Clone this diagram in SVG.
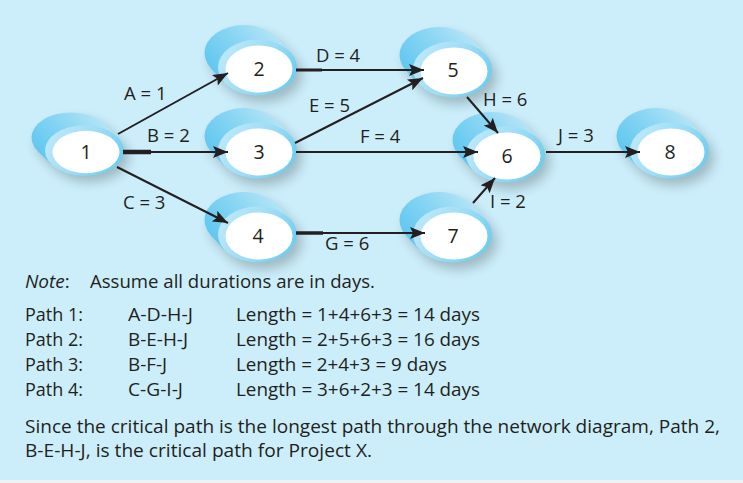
<svg xmlns="http://www.w3.org/2000/svg" xmlns:xlink="http://www.w3.org/1999/xlink" width="743" height="483" viewBox="0 0 743 483">
  <style>
    .lbl { font-family: "Open Sans", "Noto Sans", "Liberation Sans", sans-serif; font-size: 18.5px; fill: #231f20; }
    .num { font-family: "Open Sans", "Noto Sans", "Liberation Sans", sans-serif; font-size: 19.5px; fill: #231f20; text-anchor: middle; }
    .txt { font-family: "Open Sans", "Noto Sans", "Liberation Sans", sans-serif; font-size: 19px; fill: #231f20; }
    .edge { stroke: #231f20; stroke-width: 2; fill: none; }
    .edge-arrow { marker-end: url(#arrow); }
    .stub { stroke: #231f20; fill: none; }
  </style>
  <defs>
    <marker id="arrow" markerUnits="userSpaceOnUse" markerWidth="16" markerHeight="14" refX="15" refY="6" orient="auto">
      <path d="M0,0 L15,6 L0,12 L3,6 z" fill="#231f20"/>
    </marker>
    <linearGradient id="hullGrad" gradientUnits="userSpaceOnUse" x1="-50" y1="20" x2="25" y2="-45">
      <stop offset="0" stop-color="#52c2ee"/>
      <stop offset="0.55" stop-color="#8ad6f4"/>
      <stop offset="1" stop-color="#c4eaf8"/>
    </linearGradient>
    <linearGradient id="ringGrad" gradientUnits="userSpaceOnUse" x1="-40" y1="-25" x2="40" y2="25">
      <stop offset="0" stop-color="#c2eaf9"/>
      <stop offset="0.5" stop-color="#9adcf5"/>
      <stop offset="1" stop-color="#5ec8f0"/>
    </linearGradient>
    <filter id="soft" x="-50%" y="-50%" width="200%" height="200%">
      <feGaussianBlur stdDeviation="6"/>
    </filter>
    <!-- extruded oval node, drawn about the centre of its white face -->
    <g id="cyl">
      <g filter="url(#soft)" fill="#000" opacity="0.22" transform="translate(5,7)">
        <ellipse cx="-15" cy="-16" rx="39.5" ry="28"/>
        <polygon points="31.5,-16.9 18,-31.4 -48,-0.6 -34.5,13.9"/>
        <ellipse cx="-1.5" cy="-1.5" rx="39.5" ry="28"/>
      </g>
      <g fill="url(#hullGrad)">
        <ellipse cx="-15" cy="-16" rx="39.5" ry="28"/>
        <polygon points="31.5,-16.9 18,-31.4 -48,-0.6 -34.5,13.9"/>
      </g>
      <ellipse cx="-1.5" cy="-1.5" rx="39.5" ry="28" fill="url(#ringGrad)"/>
      <ellipse cx="0" cy="0" rx="33.5" ry="23.5" fill="#ffffff"/>
    </g>
  </defs>

  <rect x="0" y="0" width="743" height="483" fill="#eef2f3"/>
  <rect x="0" y="0" width="743" height="480" fill="#cbeefa"/>

  <g id="nodes">
    <g id="node-1"><use xlink:href="#cyl" transform="translate(86,152) scale(1,0.9)"/><text class="num" x="86" y="159">1</text></g>
    <g id="node-2"><use xlink:href="#cyl" transform="translate(259,69)"/><text class="num" x="259" y="76">2</text></g>
    <g id="node-3"><use xlink:href="#cyl" transform="translate(259,152)"/><text class="num" x="259" y="159">3</text></g>
    <g id="node-4"><use xlink:href="#cyl" transform="translate(259,236)"/><text class="num" x="258" y="243">4</text></g>
    <g id="node-5"><use xlink:href="#cyl" transform="translate(454,71)"/><text class="num" x="453" y="77">5</text></g>
    <g id="node-6"><use xlink:href="#cyl" transform="translate(507,156)"/><text class="num" x="507" y="163">6</text></g>
    <g id="node-7"><use xlink:href="#cyl" transform="translate(454,236)"/><text class="num" x="453" y="243">7</text></g>
    <g id="node-8"><use xlink:href="#cyl" transform="translate(671,152)"/><text class="num" x="670" y="159">8</text></g>
  </g>

  <g id="connectors">
    <line class="edge edge-arrow" x1="118" y1="134" x2="228" y2="73"/>
    <line class="stub" x1="123" y1="152" x2="151" y2="152" stroke-width="4.5"/>
    <line class="edge edge-arrow" x1="123" y1="152" x2="228" y2="152"/>
    <line class="edge edge-arrow" x1="117" y1="167" x2="228" y2="223"/>
    <line class="stub" x1="296" y1="70" x2="322" y2="70" stroke-width="3"/>
    <line class="edge edge-arrow" x1="296" y1="70" x2="424" y2="70"/>
    <line class="edge edge-arrow" x1="295" y1="143" x2="423" y2="78"/>
    <line class="edge edge-arrow" x1="296" y1="152" x2="478" y2="152"/>
    <line class="stub" x1="296" y1="233" x2="323" y2="233" stroke-width="3.5"/>
    <line class="edge edge-arrow" x1="296" y1="233" x2="425" y2="233"/>
    <line class="edge edge-arrow" x1="467" y1="97" x2="498" y2="133"/>
    <line class="edge edge-arrow" x1="473" y1="203" x2="495" y2="178"/>
    <line class="edge edge-arrow" x1="546" y1="152" x2="640" y2="152"/>
  </g>

  <g id="edge-labels">
    <text class="lbl" x="124" y="100">A = 1</text>
    <text class="lbl" x="147" y="142">B = 2</text>
    <text class="lbl" x="123" y="209">C = 3</text>
    <text class="lbl" x="316" y="62">D = 4</text>
    <text class="lbl" x="309" y="112">E = 5</text>
    <text class="lbl" x="360" y="143">F = 4</text>
    <text class="lbl" x="325" y="250">G = 6</text>
    <text class="lbl" x="483" y="106">H = 6</text>
    <text class="lbl" x="490" y="208">I = 2</text>
    <text class="lbl" x="558" y="142">J = 3</text>
  </g>

  <g id="notes">
    <text class="txt" x="25" y="288"><tspan font-style="italic">Note</tspan>:</text>
    <text class="txt" x="90" y="288" textLength="285" lengthAdjust="spacingAndGlyphs">Assume all durations are in days.</text>

    <text class="txt" x="25" y="321" textLength="58" lengthAdjust="spacingAndGlyphs">Path 1:</text>
    <text class="txt" x="128" y="321" textLength="65" lengthAdjust="spacingAndGlyphs">A-D-H-J</text>
    <text class="txt" x="236" y="321" textLength="244" lengthAdjust="spacingAndGlyphs">Length = 1+4+6+3 = 14 days</text>

    <text class="txt" x="25" y="346" textLength="58" lengthAdjust="spacingAndGlyphs">Path 2:</text>
    <text class="txt" x="128" y="346" textLength="60" lengthAdjust="spacingAndGlyphs">B-E-H-J</text>
    <text class="txt" x="236" y="346" textLength="244" lengthAdjust="spacingAndGlyphs">Length = 2+5+6+3 = 16 days</text>

    <text class="txt" x="25" y="371" textLength="58" lengthAdjust="spacingAndGlyphs">Path 3:</text>
    <text class="txt" x="128" y="371" textLength="39" lengthAdjust="spacingAndGlyphs">B-F-J</text>
    <text class="txt" x="236" y="371" textLength="211" lengthAdjust="spacingAndGlyphs">Length = 2+4+3 = 9 days</text>

    <text class="txt" x="25" y="396" textLength="58" lengthAdjust="spacingAndGlyphs">Path 4:</text>
    <text class="txt" x="128" y="396" textLength="55" lengthAdjust="spacingAndGlyphs">C-G-I-J</text>
    <text class="txt" x="236" y="396" textLength="244" lengthAdjust="spacingAndGlyphs">Length = 3+6+2+3 = 14 days</text>

    <text class="txt" x="25" y="433" textLength="695" lengthAdjust="spacingAndGlyphs">Since the critical path is the longest path through the network diagram, Path 2,</text>
    <text class="txt" x="25" y="457" textLength="347" lengthAdjust="spacingAndGlyphs">B-E-H-J, is the critical path for Project X.</text>
  </g>
</svg>
